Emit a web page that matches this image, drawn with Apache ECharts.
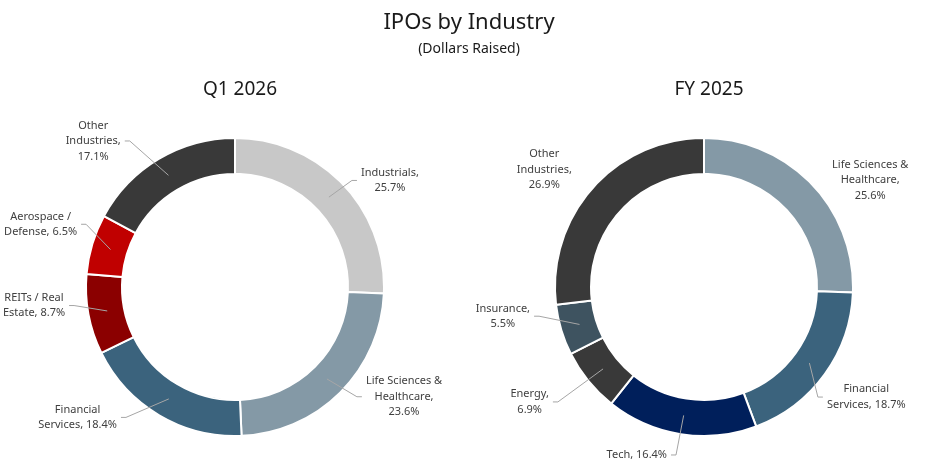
<!DOCTYPE html>
<html>
<head>
<meta charset="utf-8">
<script src="https://cdn.jsdelivr.net/npm/echarts@6/dist/echarts.min.js"></script>
<style>
html,body{margin:0;padding:0;background:#fff;}
#chart{width:938px;height:473px;}
</style>
</head>
<body>
<div id="chart"></div>
<script>
// ---- data ----
const q1Categories = ["Industrials", "Life Sciences & Healthcare", "Financial Services", "REITs / Real Estate", "Aerospace / Defense", "Other Industries"];
const q1Values = [25.7, 23.6, 18.4, 8.7, 6.5, 17.1];
const q1LabelText = ["Industrials,\n", "Life Sciences &\nHealthcare,\n", "Financial\nServices, ", "REITs / Real\nEstate, ", "Aerospace /\nDefense, ", "Other\nIndustries,\n"];

const fyCategories = ["Life Sciences & Healthcare", "Financial Services", "Tech", "Energy", "Insurance", "Other Industries"];
const fyValues = [25.6, 18.7, 16.4, 6.9, 5.5, 26.9];
const fyLabelText = ["Life Sciences &\nHealthcare,\n", "Financial\nServices, ", "Tech, ", "Energy,\n", "Insurance,\n", "Other\nIndustries,\n"];
const fyNoLeaderLine = ["Life Sciences & Healthcare", "Other Industries"];

// ---- label placement (layout only: angle nudge in degrees, leader-bend radius in px) ----
const q1LabelAngleAdj = [1.4, -3, 9.3, 4.05, 6.1, -5];
const q1LabelRadius   = [158.2, 164, 170, 162, 161.6, 180];
const fyLabelAngleAdj = [2, 8.2, 0.46, 0.87, 6.7, 2];
const fyLabelRadius   = [160, 158.4, 170.3, 185.9, 167.5, 170];

// ---- styles ----
const colorMap = {
  "Industrials": "#C8C8C8",
  "Life Sciences & Healthcare": "#8499A6",
  "Financial Services": "#3B637D",
  "REITs / Real Estate": "#8B0000",
  "Aerospace / Defense": "#C00000",
  "Other Industries": "#393939",
  "Tech": "#001F5B",
  "Energy": "#393939",
  "Insurance": "#3E5360"
};
const FONT = "'Noto Sans', 'Open Sans', sans-serif";
const R_IN = 113, R_OUT = 149;
const LINE_START_R = 130, LINE_TAIL = 5, LABEL_GAP = 4;

function ringSeries(center, cats, vals) {
  return {
    type: 'pie',
    z: 2,
    center: center,
    radius: [R_IN, R_OUT],
    startAngle: 90,
    clockwise: true,
    silent: true,
    itemStyle: { borderColor: '#fff', borderWidth: 2 },
    label: { show: false },
    labelLine: { show: false },
    emphasis: { disabled: true },
    data: cats.map((c, i) => ({ name: c, value: vals[i], itemStyle: { color: colorMap[c] } }))
  };
}

function labelSeries(center, cats, vals, texts, noLine, angleAdj, bendR) {
  const data = cats.map((c, i) => {
    const d = { name: c, value: vals[i] };
    if (noLine && noLine.indexOf(c) >= 0) d.labelLine = { lineStyle: { color: 'rgba(0,0,0,0)' } };
    return d;
  });
  return {
    type: 'pie',
    z: 3,
    center: center,
    radius: [R_IN, R_OUT],
    startAngle: 90,
    clockwise: true,
    silent: true,
    avoidLabelOverlap: false,
    itemStyle: { color: 'rgba(0,0,0,0)', borderWidth: 0 },
    label: {
      show: true,
      position: 'outside',
      fontFamily: FONT,
      fontSize: 11,
      lineHeight: 15.5,
      color: '#404040',
      formatter: p => texts[p.dataIndex] + p.value.toFixed(1) + '%'
    },
    labelLine: {
      show: true,
      showAbove: true,
      length: 12,
      length2: 10,
      lineStyle: { color: '#A6A6A6', width: 1 }
    },
    labelLayout: function (params) {
      const pts = params.labelLinePoints;
      if (!pts) return {};
      const i = params.dataIndex;
      const p0 = pts[0], p1 = pts[1];
      let dx = p1[0] - p0[0], dy = p1[1] - p0[1];
      const len = Math.sqrt(dx * dx + dy * dy) || 1;
      dx /= len; dy /= len;
      const cx = center[0], cy = center[1];
      const start = [cx + dx * LINE_START_R, cy + dy * LINE_START_R];
      const theta = Math.atan2(dx, -dy) + angleAdj[i] * Math.PI / 180;
      const bx = Math.sin(theta), by = -Math.cos(theta);
      const bend = [cx + bx * bendR[i], cy + by * bendR[i]];
      const right = bx >= 0;
      const end = [bend[0] + (right ? LINE_TAIL : -LINE_TAIL), bend[1]];
      const w = params.labelRect.width;
      const x = right ? end[0] + LABEL_GAP + w / 2 : end[0] - LABEL_GAP - w / 2;
      return {
        x: x,
        y: bend[1],
        align: 'center',
        verticalAlign: 'middle',
        labelLinePoints: [start, bend, end]
      };
    },
    emphasis: { disabled: true },
    data: data
  };
}

const chart = echarts.init(document.getElementById('chart'), null, { renderer: 'canvas' });
chart.setOption({
  animation: false,
  backgroundColor: '#fff',
  title: [
    { text: 'IPOs by Industry', left: 'center', top: 7,
      textStyle: { fontFamily: FONT, fontSize: 22, fontWeight: 'normal', color: '#1a1a1a' } },
    { text: '(Dollars Raised)', left: 'center', top: 37,
      textStyle: { fontFamily: FONT, fontSize: 14, fontWeight: 'normal', color: '#1a1a1a' } },
    { text: 'Q1 2026', left: 235, top: 75, textAlign: 'center',
      textStyle: { fontFamily: FONT, fontSize: 19, fontWeight: 'normal', color: '#1a1a1a' } },
    { text: 'FY 2025', left: 704, top: 75, textAlign: 'center',
      textStyle: { fontFamily: FONT, fontSize: 19, fontWeight: 'normal', color: '#1a1a1a' } }
  ],
  series: [
    ringSeries([235, 287], q1Categories, q1Values),
    ringSeries([704, 287], fyCategories, fyValues),
    labelSeries([235, 287], q1Categories, q1Values, q1LabelText, null, q1LabelAngleAdj, q1LabelRadius),
    labelSeries([704, 287], fyCategories, fyValues, fyLabelText, fyNoLeaderLine, fyLabelAngleAdj, fyLabelRadius)
  ]
});
</script>
</body>
</html>
